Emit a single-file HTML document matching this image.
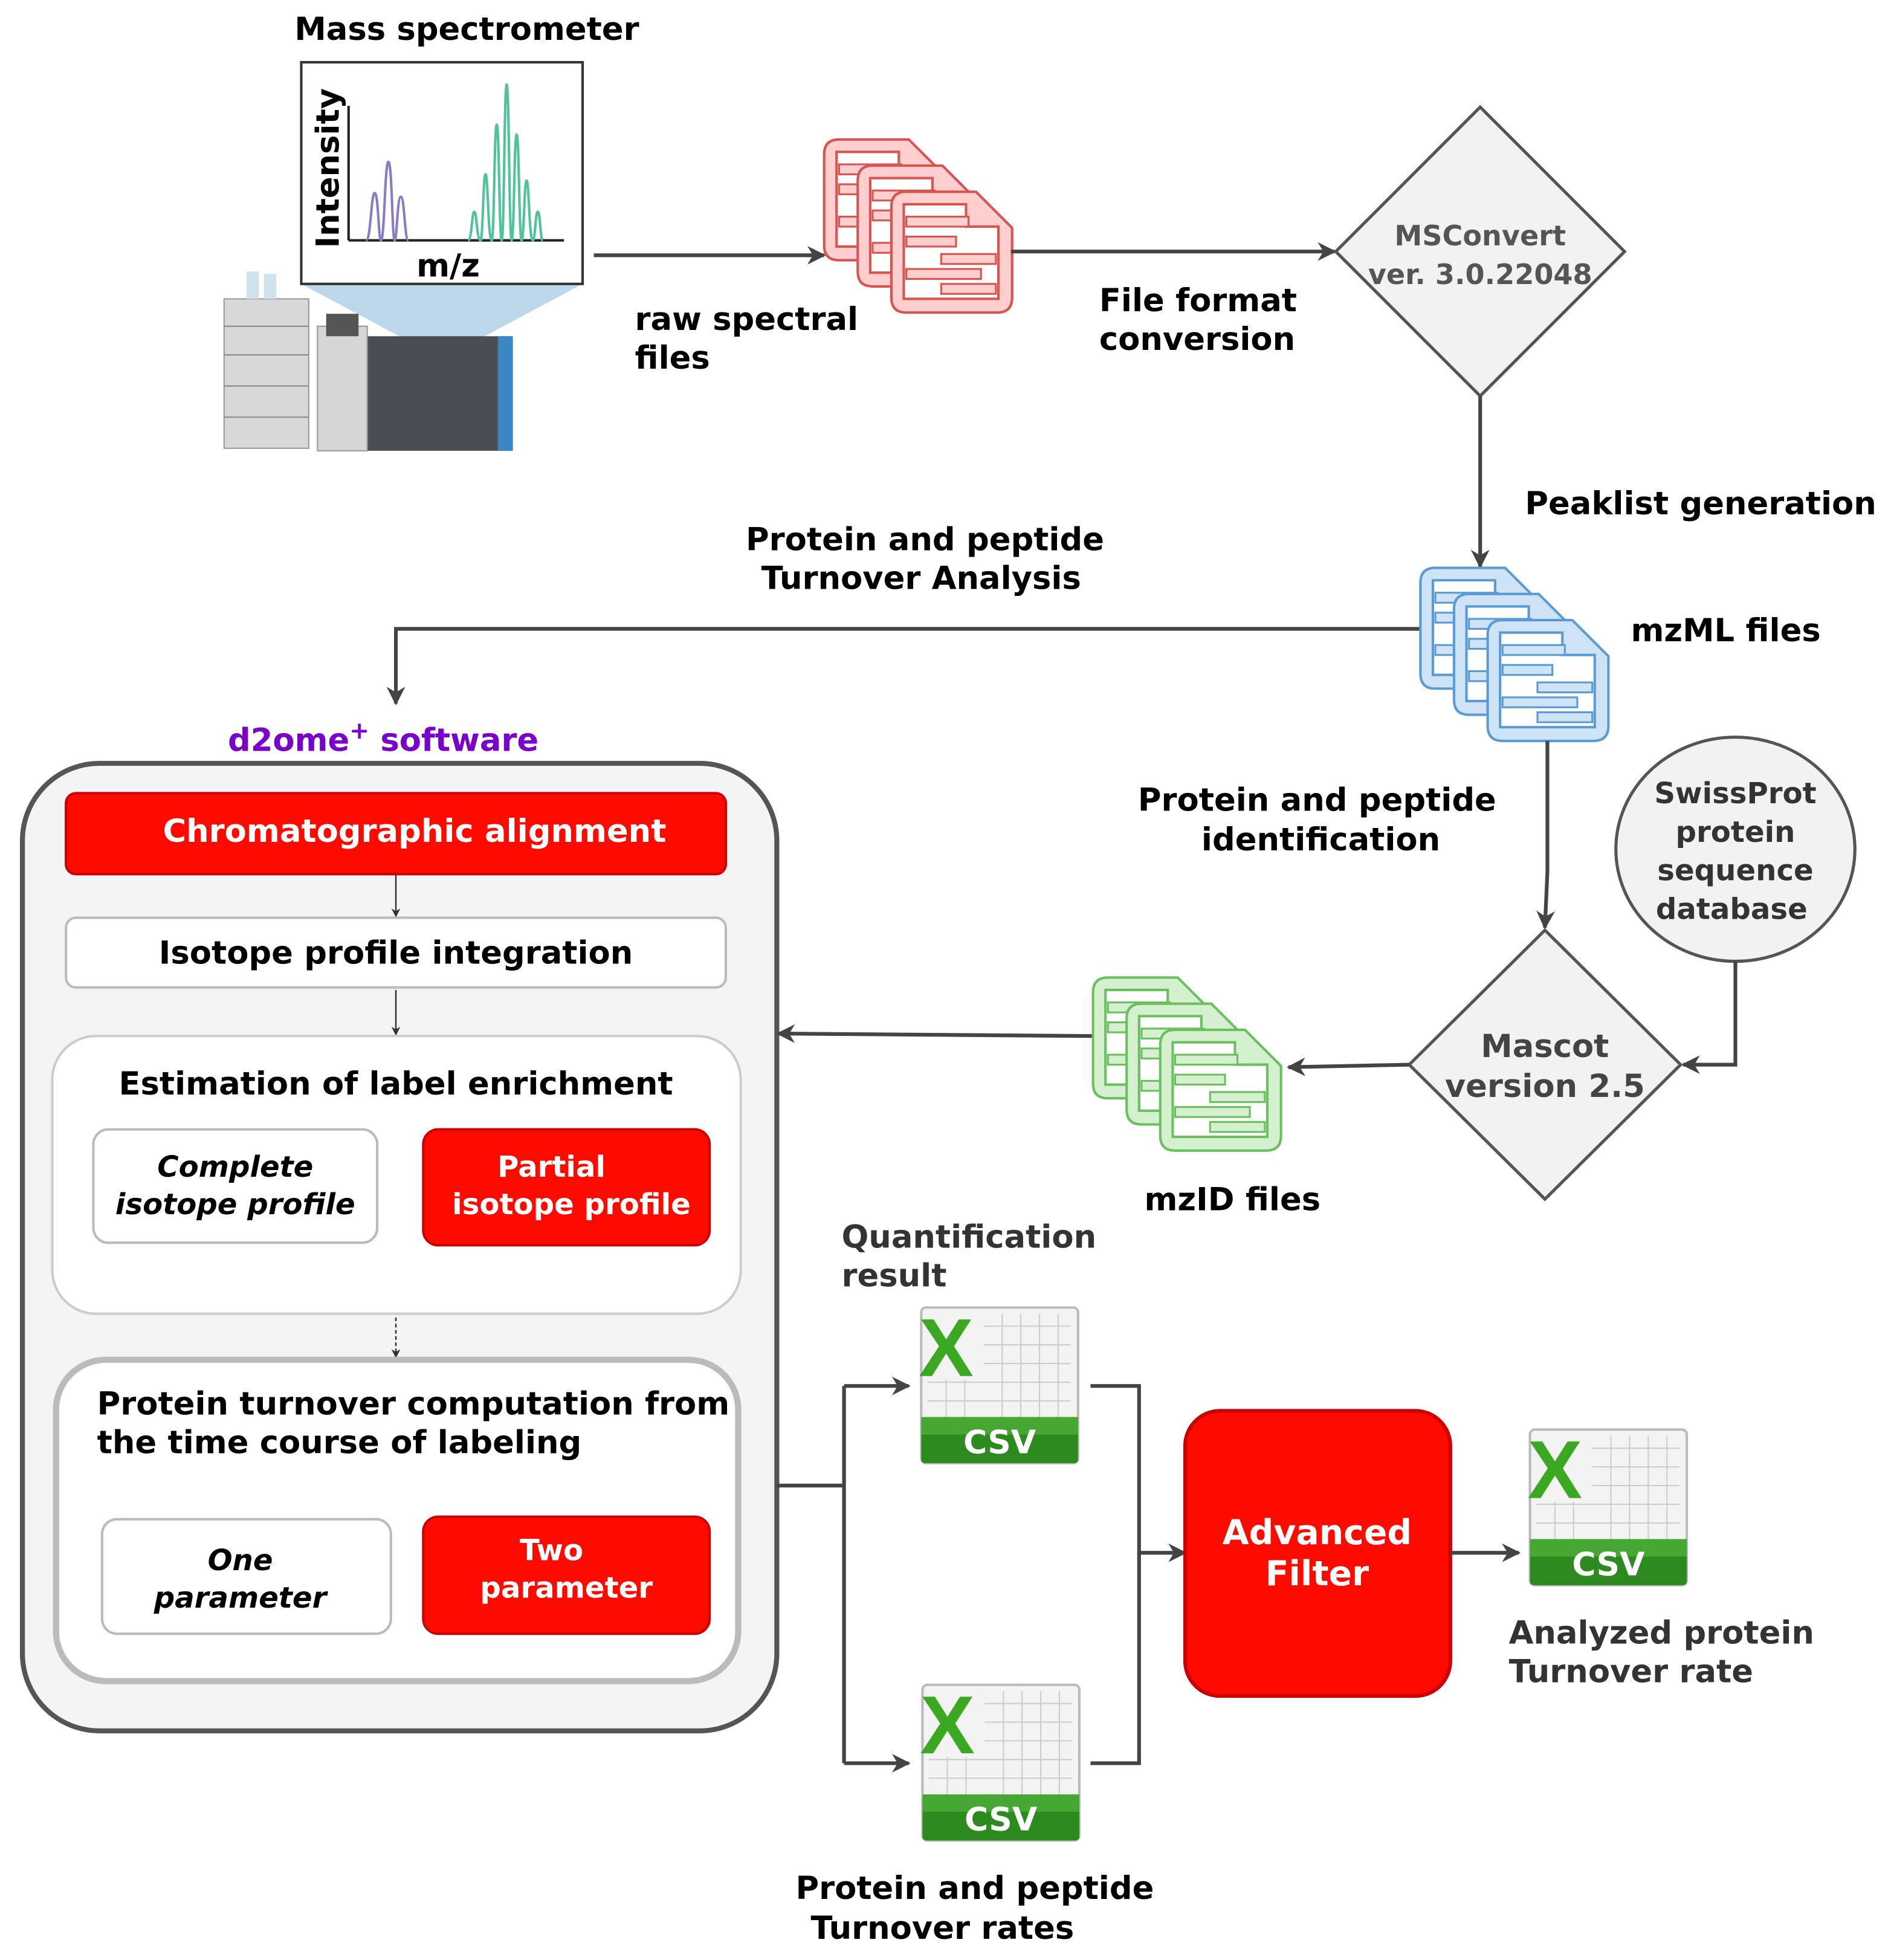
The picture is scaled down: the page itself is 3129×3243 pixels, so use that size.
<!DOCTYPE html>
<html><head><meta charset="utf-8"><style>
html,body{margin:0;padding:0;background:#fff;}
svg{display:block;}
text{font-family:"DejaVu Sans","Liberation Sans",sans-serif;font-weight:bold;}
</style></head><body>
<svg width="3129" height="3243" viewBox="0 0 1519 1574" preserveAspectRatio="none" xmlns="http://www.w3.org/2000/svg">
<defs>
<marker id="ah" viewBox="0 0 10 10" refX="9" refY="5" markerWidth="5" markerHeight="5" orient="auto-start-reverse"><path d="M0,0 L10,5 L0,10 L3,5 Z" fill="#444"/></marker>
<marker id="ahs" viewBox="0 0 10 10" refX="9" refY="5" markerWidth="6" markerHeight="6" orient="auto"><path d="M0,0 L10,5 L0,10 L3,5 Z" fill="#333"/></marker>
<g id="doc">
<path d="M12,0 H68 L97,29 V85 Q97,97 85,97 H12 Q0,97 0,85 V12 Q0,0 12,0 Z" fill="var(--l)" stroke="var(--d)" stroke-width="2"/>
<path d="M10,10 H60 V28 H86 V86 H10 Z" fill="#fff" stroke="var(--d)" stroke-width="2"/>
<g fill="var(--l)" stroke="var(--d)" stroke-width="1.5">
<rect x="12" y="20" width="50" height="8"/><rect x="12" y="36" width="40" height="8"/><rect x="40" y="50" width="44" height="8"/><rect x="12" y="62" width="60" height="8"/><rect x="40" y="74" width="44" height="8"/>
</g>
</g>
<g id="docs">
<use href="#doc" x="0" y="0"/><use href="#doc" x="27" y="21"/><use href="#doc" x="54" y="42"/>
</g>
<g id="csv">
<rect x="0" y="0" width="126" height="125" rx="4" fill="#f3f3f3" stroke="#bbb" stroke-width="2"/>
<g stroke="#ccc" stroke-width="1">
<line x1="50" y1="15" x2="120" y2="15"/><line x1="50" y1="30" x2="120" y2="30"/><line x1="50" y1="45" x2="120" y2="45"/><line x1="5" y1="60" x2="120" y2="60"/><line x1="5" y1="75" x2="120" y2="75"/>
<line x1="65" y1="5" x2="65" y2="88"/><line x1="80" y1="5" x2="80" y2="88"/><line x1="95" y1="5" x2="95" y2="88"/><line x1="110" y1="5" x2="110" y2="88"/><line x1="20" y1="58" x2="20" y2="88"/><line x1="35" y1="58" x2="35" y2="88"/>
</g>
<rect x="0" y="88" width="126" height="37" rx="3" fill="#2c8a1e"/>
<rect x="0" y="88" width="126" height="14" fill="#46a832"/>
<text x="63" y="117" font-size="26" fill="#fff" text-anchor="middle">CSV</text>
<text x="-2" y="55" font-size="66" fill="#3aa820" style="font-family:'Liberation Sans',sans-serif">X</text>
</g>
</defs>

<text x="375" y="32" font-size="25.6" text-anchor="middle">Mass spectrometer</text>
<polygon points="242,228 468,228 380,275 330,275" fill="#bcd8ea"/>
<rect x="242" y="50" width="226" height="178" fill="#fff" stroke="#333" stroke-width="2"/>
<line x1="280" y1="85" x2="280" y2="193" stroke="#222" stroke-width="2"/>
<line x1="280" y1="193" x2="453" y2="193" stroke="#222" stroke-width="2"/>
<text x="272" y="135" font-size="25.6" text-anchor="middle" transform="rotate(-90 272 135)">Intensity</text>
<text x="360" y="222" font-size="25.6" text-anchor="middle">m/z</text>
<path d="M294,193 C298,193 298,155 301,155 C304,155 304,193 306,193 C309,193 309,130 312,130 C315,130 315,193 317,193 C319,193 319,158 322,158 C325,158 325,193 328,193" fill="none" stroke="#8a7bc2" stroke-width="2"/>
<path d="M376,193 C379,193 379,170 381,170 C383,170 383,193 386,193 C388,193 388,140 390,140 C392,140 392,193 395,193 C397,193 397,100 399,100 C401,100 401,193 403,193 C405,193 405,68 407,68 C409,68 409,193 411,193 C413,193 413,108 415,108 C417,108 417,193 419,193 C421,193 421,145 423,145 C425,145 425,193 428,193 C430,193 430,170 432,170 C434,170 434,193 436,193" fill="none" stroke="#4fc39a" stroke-width="2"/>
<rect x="180" y="240" width="68" height="120" fill="#d8d8d8" stroke="#999"/>
<g stroke="#888"><line x1="180" y1="262" x2="248" y2="262"/><line x1="180" y1="285" x2="248" y2="285"/><line x1="180" y1="310" x2="248" y2="310"/><line x1="180" y1="335" x2="248" y2="335"/></g>
<rect x="198" y="218" width="10" height="22" fill="#cfe3ef"/><rect x="212" y="220" width="10" height="20" fill="#cfe3ef"/>
<rect x="255" y="270" width="155" height="92" fill="#4a4e54"/>
<rect x="255" y="262" width="40" height="100" fill="#d6d6d6" stroke="#999"/>
<rect x="262" y="252" width="26" height="18" fill="#555"/>
<rect x="400" y="270" width="12" height="92" fill="#3b86c4"/>

<line x1="477" y1="205" x2="662" y2="205" stroke="#444" stroke-width="3" marker-end="url(#ah)"/>
<text x="510" y="265" font-size="25.6">raw spectral</text>
<text x="510" y="296" font-size="25.6">files</text>
<g style="--l:#ffcfcf;--d:#d9534f"><use href="#docs" x="662" y="112"/></g>
<line x1="812" y1="202" x2="1072" y2="202" stroke="#444" stroke-width="3" marker-end="url(#ah)"/>
<text x="883" y="250" font-size="25.6">File format</text>
<text x="883" y="281" font-size="25.6">conversion</text>
<polygon points="1189,86 1305,202 1189,318 1073,202" fill="#f2f2f2" stroke="#555" stroke-width="2.5"/>
<text x="1189" y="197" font-size="22.4" fill="#555" text-anchor="middle">MSConvert</text>
<text x="1189" y="228" font-size="22.4" fill="#555" text-anchor="middle">ver. 3.0.22048</text>
<line x1="1189" y1="318" x2="1189" y2="455" stroke="#444" stroke-width="3" marker-end="url(#ah)"/>
<text x="1225" y="413" font-size="25.6">Peaklist generation</text>
<g style="--l:#cfe3f7;--d:#5b9bd5"><use href="#docs" x="1141" y="456"/></g>
<text x="1310" y="515" font-size="25.6">mzML files</text>
<polyline points="1140,505 318,505 318,565" fill="none" stroke="#444" stroke-width="3" marker-end="url(#ah)"/>
<text x="743" y="442" font-size="25.6" text-anchor="middle">Protein and peptide</text>
<text x="740" y="473" font-size="25.6" text-anchor="middle">Turnover Analysis</text>

<text x="183" y="603" font-size="25.6" fill="#7a00cc">d2ome<tspan dy="-10" font-size="19">+</tspan><tspan dy="10"> software</tspan></text>
<rect x="18" y="613" width="606" height="777" rx="62" fill="#f4f4f4" stroke="#555" stroke-width="4"/>
<rect x="53" y="637" width="530" height="65" rx="8" fill="#ff0a00" stroke="#c00" stroke-width="2"/>
<text x="333" y="676" font-size="25.6" fill="#fff" text-anchor="middle">Chromatographic alignment</text>
<line x1="318" y1="702" x2="318" y2="736" stroke="#333" stroke-width="1.2" marker-end="url(#ahs)"/>
<rect x="53" y="737" width="530" height="56" rx="8" fill="#fff" stroke="#bbb" stroke-width="2"/>
<text x="318" y="774" font-size="25.6" text-anchor="middle">Isotope profile integration</text>
<line x1="318" y1="795" x2="318" y2="831" stroke="#333" stroke-width="1.2" marker-end="url(#ahs)"/>
<rect x="42" y="832" width="553" height="223" rx="35" fill="#fff" stroke="#ccc" stroke-width="2"/>
<text x="318" y="879" font-size="25.6" text-anchor="middle">Estimation of label enrichment</text>
<rect x="75" y="907" width="228" height="91" rx="12" fill="#fff" stroke="#bbb" stroke-width="2"/>
<text x="189" y="945" font-size="23.4" font-style="italic" text-anchor="middle">Complete</text>
<text x="189" y="975" font-size="23.4" font-style="italic" text-anchor="middle">isotope profile</text>
<rect x="340" y="907" width="230" height="93" rx="12" fill="#ff0a00" stroke="#c00" stroke-width="2"/>
<text x="443" y="945" font-size="23.4" fill="#fff" text-anchor="middle">Partial</text>
<text x="459" y="975" font-size="23.4" fill="#fff" text-anchor="middle">isotope profile</text>
<line x1="318" y1="1058" x2="318" y2="1090" stroke="#333" stroke-width="1.2" stroke-dasharray="3,2" marker-end="url(#ahs)"/>
<rect x="45" y="1092" width="548" height="258" rx="40" fill="#fff" stroke="#bbb" stroke-width="5"/>
<text x="78" y="1136" font-size="25.6">Protein turnover computation from</text>
<text x="78" y="1167" font-size="25.6">the time course of labeling</text>
<rect x="82" y="1220" width="232" height="92" rx="12" fill="#fff" stroke="#bbb" stroke-width="2"/>
<text x="193" y="1261" font-size="23.4" font-style="italic" text-anchor="middle">One</text>
<text x="193" y="1291" font-size="23.4" font-style="italic" text-anchor="middle">parameter</text>
<rect x="340" y="1218" width="230" height="94" rx="12" fill="#ff0a00" stroke="#c00" stroke-width="2"/>
<text x="443" y="1253" font-size="23.4" fill="#fff" text-anchor="middle">Two</text>
<text x="455" y="1283" font-size="23.4" fill="#fff" text-anchor="middle">parameter</text>

<polyline points="1243,595 1243,700 1241,745" fill="none" stroke="#444" stroke-width="3" marker-end="url(#ah)"/>
<text x="1058" y="651" font-size="25.6" text-anchor="middle">Protein and peptide</text>
<text x="1061" y="683" font-size="25.6" text-anchor="middle">identification</text>
<ellipse cx="1394" cy="682" rx="96" ry="90" fill="#f2f2f2" stroke="#555" stroke-width="2.5"/>
<text x="1394" y="645" font-size="23.4" fill="#333" text-anchor="middle">SwissProt</text>
<text x="1394" y="676" font-size="23.4" fill="#333" text-anchor="middle">protein</text>
<text x="1394" y="707" font-size="23.4" fill="#333" text-anchor="middle">sequence</text>
<text x="1391" y="738" font-size="23.4" fill="#333" text-anchor="middle">database</text>
<polygon points="1241,747 1350,855 1241,963 1132,855" fill="#f2f2f2" stroke="#555" stroke-width="2.5"/>
<text x="1241" y="849" font-size="25.6" fill="#444" text-anchor="middle">Mascot</text>
<text x="1241" y="881" font-size="25.6" fill="#444" text-anchor="middle">version 2.5</text>
<polyline points="1394,772 1394,855 1352,855" fill="none" stroke="#444" stroke-width="3" marker-end="url(#ah)"/>
<polyline points="1132,855 1035,857" fill="none" stroke="#444" stroke-width="3" marker-end="url(#ah)"/>
<g style="--l:#d4f0cf;--d:#6abf5e"><use href="#docs" x="878" y="785"/></g>
<text x="990" y="972" font-size="25.6" text-anchor="middle">mzID files</text>
<line x1="877" y1="832" x2="625" y2="830" stroke="#444" stroke-width="3" marker-end="url(#ah)"/>

<polyline points="624,1193 678,1193" fill="none" stroke="#444" stroke-width="3"/>
<polyline points="678,1113 678,1416" fill="none" stroke="#444" stroke-width="3"/>
<line x1="678" y1="1113" x2="730" y2="1113" stroke="#444" stroke-width="3" marker-end="url(#ah)"/>
<line x1="678" y1="1416" x2="730" y2="1416" stroke="#444" stroke-width="3" marker-end="url(#ah)"/>
<text x="676" y="1002" font-size="25.6" fill="#333">Quantification</text>
<text x="676" y="1033" font-size="25.6" fill="#333">result</text>
<use href="#csv" x="740" y="1050"/>
<use href="#csv" x="741" y="1353"/>
<polyline points="876,1113 915,1113 915,1416 876,1416" fill="none" stroke="#444" stroke-width="3"/>
<line x1="915" y1="1247" x2="952" y2="1247" stroke="#444" stroke-width="3" marker-end="url(#ah)"/>
<rect x="952" y="1133" width="213" height="229" rx="28" fill="#ff0a00" stroke="#c00" stroke-width="3"/>
<text x="1058" y="1240" font-size="27.6" fill="#fff" text-anchor="middle">Advanced</text>
<text x="1058" y="1273" font-size="27.6" fill="#fff" text-anchor="middle">Filter</text>
<line x1="1165" y1="1247" x2="1220" y2="1247" stroke="#444" stroke-width="3" marker-end="url(#ah)"/>
<use href="#csv" x="1229" y="1148"/>
<text x="1212" y="1320" font-size="25.6" fill="#333">Analyzed protein</text>
<text x="1212" y="1351" font-size="25.6" fill="#333">Turnover rate</text>
<text x="783" y="1525" font-size="25.6" text-anchor="middle">Protein and peptide</text>
<text x="757" y="1557" font-size="25.6" text-anchor="middle">Turnover rates</text>
</svg>
</body></html>
